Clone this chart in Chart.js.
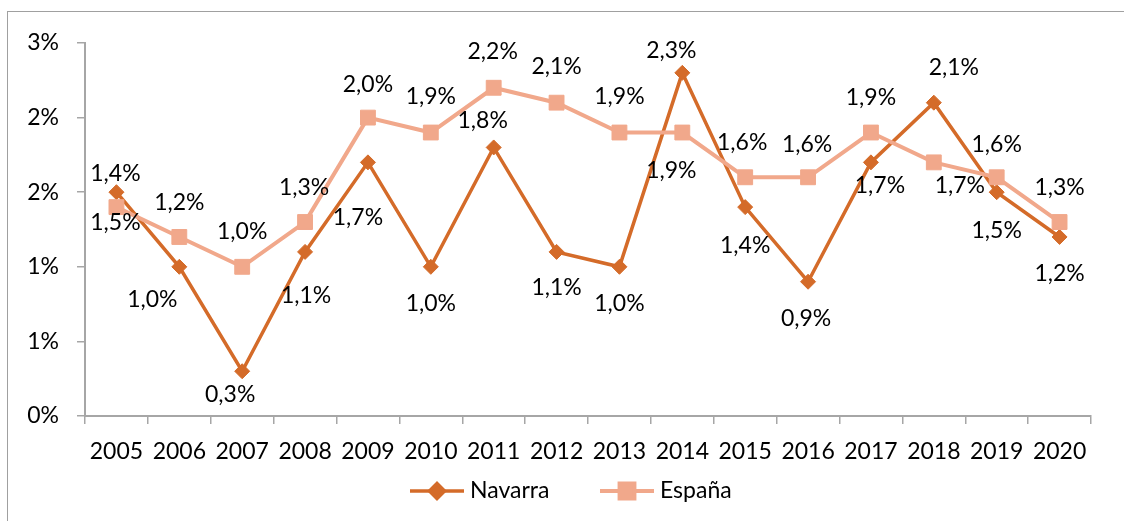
<!DOCTYPE html>
<html>
<head>
<meta charset="utf-8">
<script src="https://cdn.jsdelivr.net/npm/chart.js@4.4.0/dist/chart.umd.min.js"></script>
<style>
  html, body { margin: 0; padding: 0; background: #fff; }
</style>
</head>
<body>
<canvas id="lineCanvas" width="1124" height="521"></canvas>
<script>
// datos
const years = ["2005", "2006", "2007", "2008", "2009", "2010", "2011", "2012",
               "2013", "2014", "2015", "2016", "2017", "2018", "2019", "2020"];
const navarra = [1.5, 1.0, 0.3, 1.1, 1.7, 1.0, 1.8, 1.1, 1.0, 2.3, 1.4, 0.9, 1.7, 2.1, 1.5, 1.2];
const espana = [1.4, 1.2, 1.0, 1.3, 2.0, 1.9, 2.2, 2.1, 1.9, 1.9, 1.6, 1.6, 1.9, 1.7, 1.6, 1.3];
const yTickLabels = ["0%", "1%", "1%", "2%", "2%", "3%"];

// where each data label sits, relative to its point (dx, dy)
const navarraLabelOffset = [[-1, 30], [-27, 33], [-12, 23], [1, 44], [-10, 55], [0, 37], [-11, -27], [0, 36],
                            [0, 37], [-11, -22], [0, 38], [-2, 37], [9, 23], [20, -35], [0, 38], [0, 37]];
const espanaLabelOffset = [[-1, -34], [0, -34], [0, -35], [-1, -34], [0, -33], [0, -36], [-1, -36], [0, -36],
                           [0, -36], [-11, 38], [-3, -35], [-1, -33], [0, -35], [26, 23], [0, -33], [0, -34]];

const FONT = "Lato, 'Open Sans', sans-serif";
const FONT_SIZE = 23;
const AXIS_GREY = "#A6A6A6";

const fmtPct = (v) => v.toFixed(1).replace(".", ",") + "%";

const labelsPlugin = {
  id: "labelsPlugin",
  beforeDraw(chart) {
    const ctx = chart.ctx;
    ctx.save();
    ctx.strokeStyle = "#A0A0A0";
    ctx.lineWidth = 1;
    ctx.strokeRect(7.5, 11.5, 1130, 530);
    ctx.restore();
  },
  afterDatasetsDraw(chart) {
    const ctx = chart.ctx;
    ctx.save();
    ctx.font = FONT_SIZE + "px " + FONT;
    ctx.fillStyle = "#000";
    ctx.textAlign = "center";
    ctx.textBaseline = "middle";
    chart.data.datasets.forEach((ds, di) => {
      const meta = chart.getDatasetMeta(di);
      const offs = ds.labelOffset;
      meta.data.forEach((pt, i) => {
        ctx.fillText(fmtPct(ds.data[i]), pt.x + offs[i][0], pt.y + offs[i][1]);
      });
    });
    ctx.restore();
  },
  afterDraw(chart) {
    // legend: line with marker + name
    const ctx = chart.ctx;
    const y = 491;
    const starts = [410, 600];
    ctx.save();
    ctx.font = FONT_SIZE + "px " + FONT;
    ctx.textBaseline = "middle";
    ctx.textAlign = "left";
    chart.data.datasets.forEach((ds, di) => {
      const x0 = starts[di];
      ctx.strokeStyle = ds.borderColor;
      ctx.lineWidth = ds.borderWidth;
      ctx.beginPath();
      ctx.moveTo(x0, y);
      ctx.lineTo(x0 + 54, y);
      ctx.stroke();
      ctx.fillStyle = ds.pointBackgroundColor;
      ctx.strokeStyle = ds.pointBorderColor;
      Chart.helpers.drawPoint(ctx, {
        pointStyle: ds.pointStyle,
        radius: ds.pointRadius,
        rotation: 0,
        borderWidth: ds.pointBorderWidth
      }, x0 + 27, y);
      ctx.fillStyle = "#000";
      ctx.fillText(ds.label, x0 + 60, y);
    });
    ctx.restore();
  }
};

const lineChart = new Chart(document.getElementById("lineCanvas"), {
  type: "line",
  data: {
    labels: years,
    datasets: [
      {
        label: "Navarra",
        data: navarra,
        labelOffset: navarraLabelOffset,
        borderColor: "#D46B29",
        backgroundColor: "#D46B29",
        borderWidth: 3.5,
        pointStyle: "rectRot",
        pointRadius: 7.5,
        pointBackgroundColor: "#D46B29",
        pointBorderColor: "#D46B29",
        pointBorderWidth: 1,
        tension: 0,
        order: 1
      },
      {
        label: "España",
        data: espana,
        labelOffset: espanaLabelOffset,
        borderColor: "#F1A88B",
        backgroundColor: "#F1A88B",
        borderWidth: 4,
        pointStyle: "rect",
        pointRadius: 10.5,
        pointBackgroundColor: "#F1A88B",
        pointBorderColor: "#F1A88B",
        pointBorderWidth: 1,
        tension: 0,
        order: 0
      }
    ]
  },
  options: {
    responsive: false,
    animation: false,
    layout: { padding: { left: 0, right: 33, top: 43, bottom: 0 } },
    plugins: {
      legend: { display: false },
      tooltip: { enabled: false }
    },
    scales: {
      x: {
        offset: true,
        afterFit: (scale) => { scale.height = 105; },
        grid: {
          offset: true,
          drawOnChartArea: false,
          drawTicks: true,
          tickLength: 8,
          color: AXIS_GREY,
          lineWidth: 1.5
        },
        border: { display: true, color: AXIS_GREY, width: 2 },
        ticks: {
          color: "#000",
          font: { family: FONT, size: FONT_SIZE },
          padding: 14,
          maxRotation: 0,
          autoSkip: false
        }
      },
      y: {
        min: 0,
        max: 2.5,
        afterFit: (scale) => { scale.width = 85; },
        grid: {
          drawOnChartArea: false,
          drawTicks: true,
          tickLength: 8,
          color: AXIS_GREY,
          lineWidth: 1.5
        },
        border: { display: true, color: AXIS_GREY, width: 2 },
        ticks: {
          stepSize: 0.5,
          color: "#000",
          font: { family: FONT, size: FONT_SIZE },
          padding: 18,
          callback: (value, index) => yTickLabels[index]
        }
      }
    }
  },
  plugins: [labelsPlugin]
});
</script>
</body>
</html>
